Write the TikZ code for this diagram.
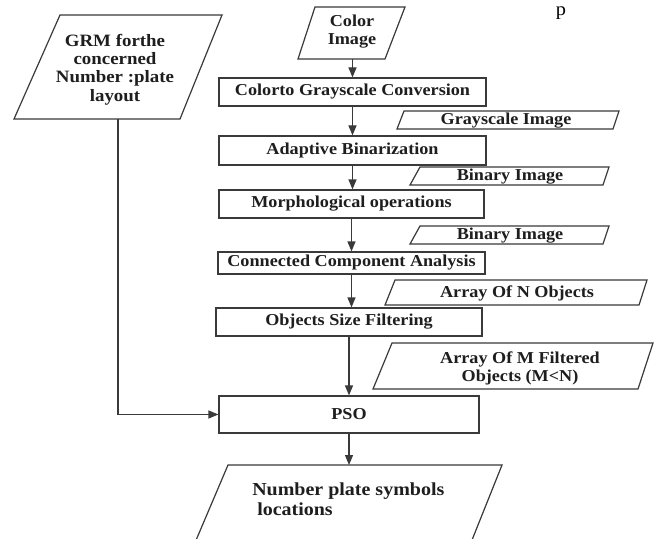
\documentclass[tikz,border=0pt]{standalone}
\usepackage{fontspec}
\setmainfont{Liberation Serif}[FakeStretch=1.09]
\usetikzlibrary{arrows.meta}
\def\pu{0.75pt}
\definecolor{linec}{HTML}{3A3A3A}
\definecolor{txtc}{HTML}{1E1E1E}
\begin{document}
\begin{tikzpicture}[x=0.75pt,y=-0.75pt,
  every node/.style={font=\fontsize{12.5}{13.5}\selectfont\bfseries, text=txtc, align=center, inner sep=0pt},
  procbox/.style={draw=linec, line width=0.9pt, rectangle},
  databox/.style={draw=linec, line width=0.9pt, line join=miter},
  arr/.style={draw=linec, line width=0.9pt, -{Triangle[length=7.5pt,width=6pt]}},
  link/.style={draw=linec, line width=1.3pt}
]
\clip (0,0) rectangle (655,538);
\fill[white] (0,0) rectangle (655,538);

% fragment of text at the top edge
\node[anchor=base, font=\fontsize{14}{14}\selectfont, text=black] (frag) at (561,16) {p};

% process boxes
\node[procbox, minimum width=267*\pu, minimum height=28*\pu] (conv) at (352.5,92) {Colorto Grayscale Conversion};
\node[procbox, minimum width=267*\pu, minimum height=29*\pu] (adapt) at (352.5,150.5) {Adaptive Binarization};
\node[procbox, minimum width=265*\pu, minimum height=28*\pu] (morph) at (351.5,204) {Morphological operations};
\node[procbox, minimum width=267*\pu, minimum height=22*\pu] (conn) at (351.5,263) {Connected Component Analysis};
\node[procbox, minimum width=266*\pu, minimum height=28*\pu] (size) at (349,322) {Objects Size Filtering};
\node[procbox, minimum width=260*\pu, minimum height=37*\pu] (pso) at (349,414.5) {PSO};

% data (parallelogram) shapes
\draw[databox] (315,7) -- (405,7) -- (385,59) -- (298,59) -- cycle;
\node (color) at (352,32) {Color\\Image};
\coordinate (colorb) at (352.5,59);

\draw[databox] (404,111) -- (619,111) -- (613,129) -- (397,129) -- cycle;
\node (gray) at (506,120.5) {Grayscale Image};

\draw[databox] (420,167) -- (609,167) -- (603,185) -- (410,185) -- cycle;
\node (bin1) at (510,176.5) {Binary Image};

\draw[databox] (420,226) -- (609,226) -- (603,244) -- (410,244) -- cycle;
\node (bin2) at (510,235.5) {Binary Image};

\draw[databox] (395,280) -- (647,280) -- (639,305) -- (385,305) -- cycle;
\node (arrn) at (517,293) {Array Of N Objects};

\draw[databox] (392,343) -- (653,343) -- (638,389) -- (373,389) -- cycle;
\node (arrm) at (520,368) {Array Of M Filtered\\Objects (M<N)};

\draw[databox] (60,15) -- (222,15) -- (180,119) -- (14,119) -- cycle;
\node[font=\fontsize{13}{13.8}\selectfont\bfseries] (grm) at (115,69.5) {GRM forthe\\concerned\\Number :plate\\layout};
\coordinate (grmb) at (118,119);

\draw[databox] (228,465) -- (502,465) -- (470,545) -- (194,545) -- cycle;
\node[align=left, anchor=north west, font=\fontsize{13.75}{14.3}\selectfont\bfseries] (out) at (252,483) {Number plate symbols\\\ locations};
\coordinate (outt) at (349,465);

% connectors
\draw[arr] (colorb) -- (colorb |- conv.north);
\draw[arr] (conv.south) -- (conv.south |- adapt.north);
\draw[arr] (adapt.south) -- (adapt.south |- morph.north);
\draw[arr] (morph.south) -- (morph.south |- conn.north);
\draw[arr] (conn.south) -- (conn.south |- size.north);
\draw[arr] (size.south) -- (size.south |- pso.north);
\draw[arr] (pso.south) -- (outt);
\draw[link] (grmb) |- ([xshift=-6pt]pso.west);
\draw[arr] ([xshift=-6.5pt]pso.west) -- (pso.west);
\end{tikzpicture}
\end{document}
